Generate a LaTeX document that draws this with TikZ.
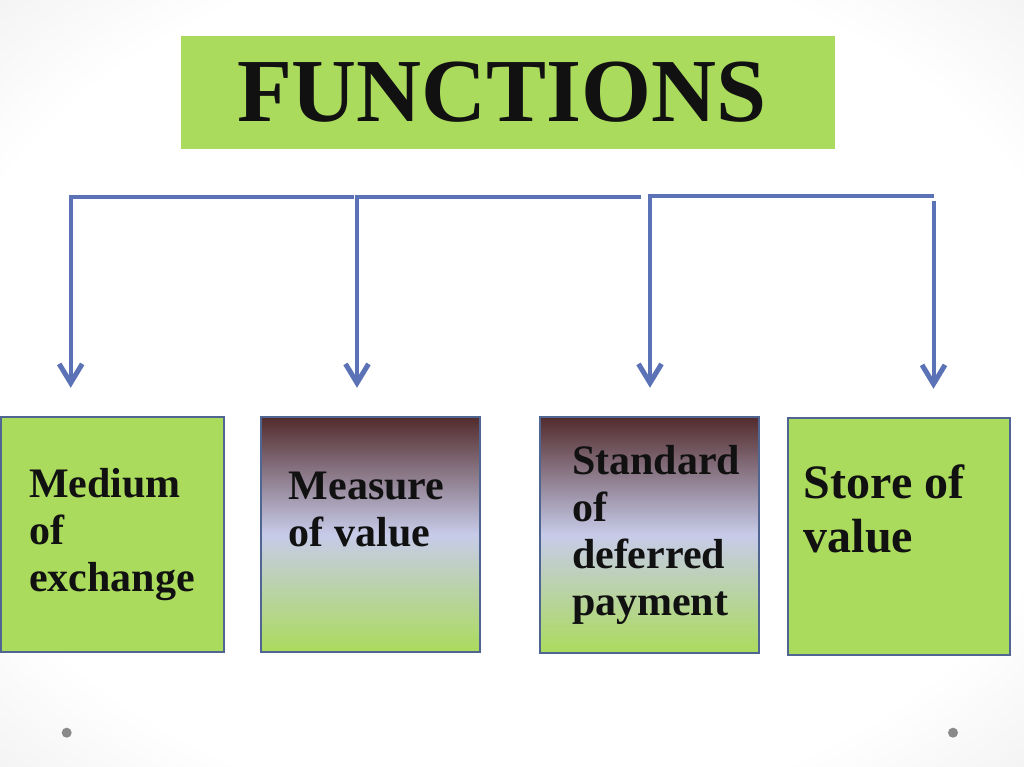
\documentclass[tikz,border=0pt]{standalone}
\usepackage{fontspec}
\setmainfont{Liberation Serif}
\usepackage{tikz}
\usetikzlibrary{positioning}
\usetikzlibrary{arrows.meta}

\definecolor{fgreen}{HTML}{ABDB5C}
\definecolor{fborder}{HTML}{4F6592}
\definecolor{flink}{HTML}{5B72B6}
\definecolor{fmaroon}{HTML}{522B2C}
\definecolor{flav}{HTML}{C7CBE9}
\definecolor{fink}{HTML}{111111}
\definecolor{fdot}{HTML}{8A8A8A}

\pgfdeclareradialshading{slidebg}{\pgfpoint{0bp}{0bp}}{color(0bp)=(white); color(28bp)=(white); color(50bp)=(black!13); color(72bp)=(black!20)}

\begin{document}
\begin{tikzpicture}[x=1pt,y=-1pt,>={Straight Barb[length=19pt,width=23pt,line width=5pt,sharp]},
    titlebox/.style={fill=fgreen,text=fink,font=\fontsize{90}{96}\selectfont\bfseries,
      text width=542pt,inner xsep=56pt,inner ysep=0pt,minimum height=113pt,align=left},
    funcbox/.style={draw=fborder,line width=2.5pt,fill=fgreen,text=fink,inner sep=0pt,
      font=\fontsize{42}{47}\selectfont\bfseries,align=left},
    shadebox/.style={funcbox,top color=fmaroon,bottom color=fgreen,middle color=flav},
    boxtext/.style={anchor=north west,text=fink,inner sep=0pt,align=left},
    link/.style={->,draw=flink,line width=4pt,shorten >=28pt},
    dot/.style={circle,fill=fdot,inner sep=0pt,minimum size=10pt}]

  % slide background
  \useasboundingbox (0,0) rectangle (1024,767);
  \shade[shading=slidebg] (0,0) rectangle (1024,767);

  \node[titlebox] (functions) at (508,92.5) {FUNCTIONS};

  \node[funcbox,minimum width=223pt,minimum height=235pt,text width=167pt]  (medium)   at (112.5,534.5) {Medium\\of\\exchange};
  \node[shadebox,minimum width=219pt,minimum height=235pt] (measure)  at (370.5,534.5) {};
  \node[shadebox,minimum width=219pt,minimum height=236pt,text width=155pt] (standard) at (649.5,535) {Standard\\of\\deferred\\payment};
  \node[funcbox,minimum width=222pt,minimum height=237pt] (store) at (899,536.5) {};

  % text sits high in these two
  \node[boxtext,font=\fontsize{42}{47}\selectfont\bfseries] (measuretext) at ([shift={(29,56)}]measure.north west) {Measure\\of value};
  \node[boxtext,font=\fontsize{48}{54}\selectfont\bfseries] (storetext)   at ([shift={(17,48)}]store.north west)   {Store of\\value};

  % branch points on the bar
  \coordinate (j1) at (70.7,197.5);
  \coordinate (e1) at (354,197.5);
  \coordinate (j2) at (357,197.5);
  \coordinate (e2) at (640.5,197.5);
  \coordinate (j3) at (650,195.7);
  \coordinate (e3) at (933.5,195.7);
  \coordinate (j4) at (933.5,201);

  \draw[link] (e1) -- (j1) -- (j1 |- medium.north);
  \draw[link] (e2) -- (j2) -- (j2 |- measure.north);
  \draw[link] (e3) -- (j3) -- (j3 |- standard.north);
  \draw[link] (j4) -- (j4 |- store.north);

  \node[dot] (dotleft)  at (66.7,732.7) {};
  \node[dot] (dotright) at (953,732.7) {};
\end{tikzpicture}
\end{document}
